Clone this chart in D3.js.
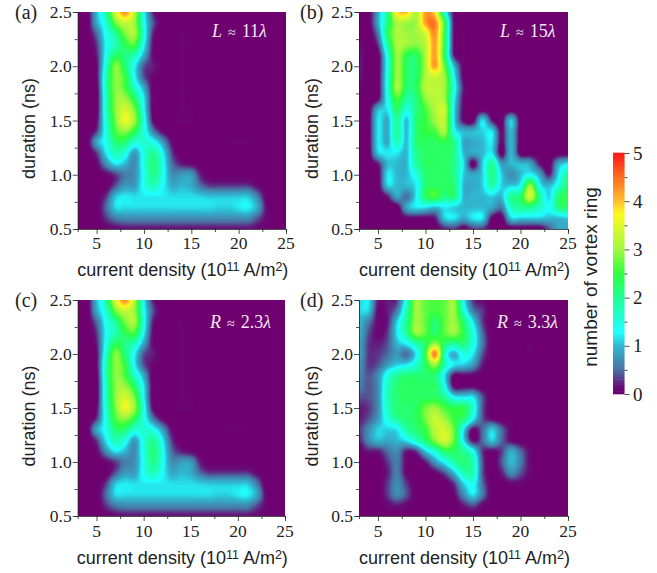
<!DOCTYPE html>
<html><head><meta charset="utf-8">
<script src="https://cdnjs.cloudflare.com/ajax/libs/d3/7.8.5/d3.min.js"></script>
<style>html,body{margin:0;padding:0;background:#fff}svg{display:block}</style>
</head><body><svg id="c" width="657" height="573"></svg>
<script>
// grid axes
const currentDensity = d3.range(3, 26);            // 3..25
const durations = d3.range(25, 4, -1).map(d => d / 10); // rows: 2.5 .. 0.5
const xTicks = [5, 10, 15, 20, 25];
const yTicks = [0.5, 1.0, 1.5, 2.0, 2.5];
const barTicks = [0, 1, 2, 3, 4, 5];

// values: rows top (2.5 ns) to bottom (0.5 ns), columns 3..25
const ringsL11 = [
[0,0,1.0,1.9,3.4,4.3,3.2,1.3,.2,0,0,0,0,0,0,0,0,0,0,0,0,0,0],
[0,0,.9,1.6,2.8,3.3,3.0,1.4,.4,0,0,0,0,0,0,0,0,0,0,0,0,0,0],
[0,0,.5,1.4,2.0,2.8,3.1,1.5,.2,0,0,.05,0,0,0,0,0,0,0,0,0,0,0],
[0,0,.3,1.3,1.8,2.4,2.6,1.3,.1,0,0,.05,0,0,0,0,0,0,0,0,0,0,0],
[0,0,.2,1.4,2.3,2.1,1.8,.9,.1,0,0,.05,0,0,0,0,0,0,0,0,0,0,0],
[0,0,.1,1.6,2.9,2.2,1.3,.4,.2,0,0,.05,0,0,0,0,0,0,0,0,0,0,0],
[0,0,.1,1.8,2.9,2.5,1.3,.4,.1,0,0,.05,0,0,0,0,0,0,0,0,0,0,0],
[0,0,0,1.8,2.9,2.6,1.7,.9,0,0,0,.05,0,0,0,0,0,0,0,0,0,0,0],
[0,0,0,1.7,2.9,3.0,2.3,1.2,0,0,0,.05,0,0,0,0,0,0,0,0,0,0,0],
[0,0,0,1.7,2.9,3.4,2.8,1.3,0,0,0,.05,.05,0,0,0,0,0,0,0,0,0,0],
[0,0,.1,1.6,2.8,3.6,3.0,1.5,.1,0,.05,.05,.05,0,0,0,0,0,0,0,0,0,0],
[0,0,.3,1.5,2.6,2.9,2.4,1.5,.6,.1,0,0,0,0,0,0,0,0,0,0,0,0,0],
[0,0,.9,1.4,2.2,2.2,1.6,1.6,1.4,.8,.1,0,0,0,0,0,.05,.05,.05,0,0,0,0],
[0,0,.3,1.2,1.8,1.5,.8,1.5,2.0,1.25,.3,0,0,0,0,0,0,0,0,0,0,0,0],
[0,0,.1,.7,1.2,1.0,.7,1.5,2.2,1.4,.5,.2,.1,0,0,0,0,0,0,0,0,0,0],
[0,0,0,.1,.3,.6,.7,1.4,2.1,1.4,.7,.8,.8,.2,0,0,0,0,0,0,0,0,0],
[0,0,0,0,.4,.8,.8,1.4,1.8,1.3,.9,1.0,.9,.5,.3,.3,.3,.3,.3,.1,0,0,0],
[0,0,0,.3,1.05,1.2,1.15,1.2,1.2,1.2,1.15,1.15,1.15,1.1,1.05,1.05,1.05,1.05,1.05,.6,0,0,0],
[0,0,0,.5,1.15,1.15,1.15,1.15,1.15,1.15,1.15,1.15,1.15,1.15,1.15,1.1,1.1,1.2,1.25,.9,.1,0,0],
[0,0,0,.3,.6,.7,.7,.7,.7,.7,.7,.7,.7,.7,.7,.7,.7,.7,.7,.4,.1,0,0],
[0,0,0,.05,.1,.15,.15,.15,.15,.15,.15,.15,.15,.15,.15,.15,.15,.15,.15,.1,.05,0,0]
];
const ringsL15 = [
[0,0,.9,2.0,3.8,4.0,3.1,4.2,3.8,1.6,.1,0,0,0,0,0,0,0,0,0,0,0,0],
[0,0,.9,2.1,3.1,3.0,3.0,4.2,4.4,2.5,.1,0,0,0,0,0,0,0,0,0,0,0,0],
[0,0,.6,2.3,3.1,3.0,3.0,3.4,4.3,2.4,.1,.05,0,0,0,0,0,0,0,0,0,0,0],
[.1,0,.3,1.9,3.1,3.0,2.9,3.2,4.2,2.4,.1,.05,0,0,0,0,0,0,0,0,0,0,0],
[.2,0,0,1.5,3.0,2.4,2.3,3.1,4.2,2.3,.2,.05,0,0,0,0,0,0,0,0,0,0,0],
[.2,0,0,1.4,3.0,2.3,2.2,3.1,4.2,2.7,1.0,.05,0,0,0,0,0,0,0,0,0,0,0],
[.2,0,0,1.5,3.0,2.3,2.2,3.1,3.3,3.0,1.3,.05,0,0,0,0,0,0,0,0,0,0,0],
[.1,0,0,1.5,3.1,2.2,2.3,3.2,3.2,3.0,1.5,.2,0,0,0,0,0,0,0,0,0,0,0],
[0,0,.1,1.4,2.6,1.9,2.1,2.9,3.2,3.0,1.3,.1,0,0,0,0,0,0,0,0,0,0,0],
[0,0,1.0,1.2,2.3,1.5,2.1,2.6,3.1,3.3,1.2,.1,0,0,0,0,0,0,0,0,0,0,0],
[0,0,1.2,.9,2.0,1.0,2.2,2.5,3.0,3.2,1.2,.1,0,1.2,.2,0,1.1,0,0,0,0,0,0],
[0,0,1.2,.9,2.0,1.0,2.2,2.5,2.6,3.1,1.4,1.0,1.0,1.1,1.2,.1,1.0,0,0,0,0,0,0],
[0,0,1.2,.9,1.8,1.0,2.2,2.3,2.3,2.4,2.1,.9,.9,1.0,1.2,.1,1.0,0,0,0,0,0,0],
[0,0,1.1,1.2,1.2,1.0,2.0,2.3,2.3,2.3,2.1,1.0,.9,1.0,1.2,0,1.0,0,0,0,0,0,0],
[0,0,.2,1.0,1.0,1.0,1.9,2.3,2.3,2.3,2.1,1.2,0,1.1,2.0,.8,1.0,1.0,.9,.2,0,.9,1.2],
[0,0,0,1.2,1.0,1.0,1.5,2.2,2.3,2.3,2.1,1.1,.9,1.1,2.1,1.1,.7,1.0,1.3,.9,.2,1.2,2.0],
[0,0,0,1.1,1.0,1.0,1.2,2.2,2.3,2.3,2.2,1.0,.9,1.1,1.9,1.1,1.1,1.3,3.0,1.3,1.0,1.5,2.3],
[0,0,0,.2,.9,.5,1.2,2.3,2.6,2.1,2.2,1.0,1.0,1.0,1.1,1.0,2.0,2.2,3.4,2.0,1.1,2.2,2.4],
[0,0,0,0,0,.9,1.2,1.2,1.0,1.2,1.1,1.0,1.0,1.0,.9,.6,1.7,2.0,2.0,1.7,1.3,2.1,2.3],
[0,0,0,0,0,.1,.1,.1,.2,1.1,1.2,.9,1.2,1.2,.1,0,1.1,1.1,1.1,1.1,1.0,1.0,1.1],
[0,0,0,0,0,0,0,0,0,.2,.3,0,.3,.3,0,0,0,0,0,0,.4,.9,.9]
];
const ringsR33 = [
[1.1,1.2,.2,.2,.3,1.5,3.0,2.7,2.6,2.7,3.0,1.3,.3,.1,0,0,0,0,0,0,0,0,0],
[1.1,1.1,.1,.2,.6,1.8,3.0,2.7,2.6,2.7,3.0,1.6,.6,.3,0,0,0,0,0,0,0,0,0],
[1.0,.6,.1,.2,1.1,2.0,3.0,2.7,2.2,2.7,3.0,2.2,1.2,.3,0,0,0,0,0,0,0,0,0],
[1.0,.4,.1,.3,1.2,2.0,3.0,2.7,2.2,2.7,3.0,2.4,1.5,.5,0,0,0,0,0,0,0,0,0],
[.9,.3,.2,.4,1.0,1.3,1.9,2.3,2.9,2.3,2.0,2.2,1.5,.6,0,0,0,0,.05,0,0,0,0],
[.9,.3,.3,.5,.8,.5,1.2,2.5,4.4,1.7,.9,1.5,1.2,.4,0,0,0,0,.05,0,0,0,0],
[.8,.3,.4,.8,1.1,1.2,1.6,2.3,3.0,1.8,1.2,1.1,.8,.2,0,0,0,0,0,0,0,0,0],
[.7,.4,.7,1.5,2.0,2.2,2.2,2.2,2.2,1.2,.1,.1,.1,0,0,0,0,0,0,0,0,0,0],
[.6,.4,.7,1.7,2.2,2.3,2.3,2.3,2.3,1.4,.1,.1,.1,0,0,0,0,0,0,0,0,0,0],
[.4,.4,.7,1.8,2.2,2.3,2.3,2.3,2.3,2.0,1.3,1.2,1.2,.4,0,0,0,0,0,0,0,0,0],
[.2,.3,.7,1.7,2.2,2.2,2.3,2.8,3.0,2.6,2.4,2.4,1.6,.4,0,0,0,0,0,0,0,0,0],
[.2,.4,.8,1.5,2.0,2.2,2.3,2.8,3.3,3.0,2.5,2.2,1.3,.4,.1,0,0,0,0,0,0,0,0],
[.3,.7,1.1,1.1,1.2,1.9,2.2,2.5,3.2,3.4,2.7,1.2,.1,.5,1.1,.5,.1,0,0,0,0,0,0],
[.2,.7,1.0,.9,1.0,1.2,1.7,2.2,2.9,3.4,2.7,1.2,.1,.5,1.1,.5,.1,0,0,0,0,0,0],
[0,.2,.2,.5,.7,.2,.3,1.1,1.6,2.3,2.3,2.0,1.4,.3,.1,.3,.9,.5,.1,0,0,0,0],
[0,0,0,.3,.6,.1,0,.2,.8,1.3,1.9,2.2,1.8,.4,0,.4,1.0,.6,.1,0,0,0,0],
[0,0,0,.2,.6,.1,0,0,.1,.4,1.0,1.8,1.8,.4,0,.2,.7,.4,.1,0,0,0,0],
[0,0,0,.3,.7,.3,0,0,0,0,.3,1.1,1.4,.5,0,0,.1,.1,0,0,0,0,0],
[0,0,0,.3,.7,.4,0,0,0,0,.1,.7,1.2,.6,0,0,0,0,0,0,0,0,0],
[0,0,0,.1,.2,.1,0,0,0,0,0,.2,.4,.1,0,0,0,0,0,0,0,0,0],
[0,0,0,0,0,0,0,0,0,0,0,0,0,0,0,0,0,0,0,0,0,0,0]
];

const colorStops = [0, .15, .5, 1, 1.28, 2, 2.5, 3, 3.75, 4, 4.5, 5];
const colorVals = ["#6e0070","#680c78","#4a70a0","#30b8d0","#20ffff","#20ff98","#30ff40","#a0f840","#fff820","#ffc030","#ff6c20","#ff1818"];
const color = d3.scaleLinear().domain(colorStops).range(colorVals).clamp(true);

const panels = [
 {id:"a", label:"(a)", data:ringsL11, note:["L"," ≈ ","11","λ"], x0:77.7, x1:286, y0:12, y1:229, tickY:249, titleY:276, labelX:15, yTitleX:30, noteX:212, noteY:37},
 {id:"b", label:"(b)", data:ringsL15, note:["L"," ≈ ","15","λ"], x0:359, x1:568, y0:12, y1:229, tickY:249, titleY:276, labelX:300, yTitleX:313, noteX:500, noteY:37},
 {id:"c", label:"(c)", data:ringsL11, note:["R"," ≈ ","2.3","λ"], x0:77.7, x1:285, y0:300, y1:516, tickY:537, titleY:564, labelX:15, yTitleX:30, noteX:210, noteY:328},
 {id:"d", label:"(d)", data:ringsR33, note:["R"," ≈ ","3.3","λ"], x0:359, x1:568, y0:300, y1:516, tickY:537, titleY:564, labelX:300, yTitleX:313, noteX:497, noteY:328}
];

const svg = d3.select("#c");
const SERIF = "'Liberation Serif'", SANS = "'Liberation Sans'";
const K = 5; // display refinement of the value grid

function cubic(p0, p1, p2, p3, t) {
  return p1 + .5 * t * (p2 - p0 + t * (2 * p0 - 5 * p1 + 4 * p2 - p3 + t * (3 * (p1 - p2) + p3 - p0)));
}
function refine(rows) {
  const n = rows.length, m = rows[0].length;
  const at = (j, i) => rows[Math.max(0, Math.min(n - 1, j))][Math.max(0, Math.min(m - 1, i))];
  const W = (m - 1) * K + 1, H = (n - 1) * K + 1, out = new Float64Array(W * H);
  for (let b = 0; b < H; b++) for (let a = 0; a < W; a++) {
    const fi = a / K, fj = b / K, i = Math.floor(fi), j = Math.floor(fj), u = fi - i, v = fj - j;
    const col = [-1, 0, 1, 2].map(dj => cubic(at(j + dj, i - 1), at(j + dj, i), at(j + dj, i + 1), at(j + dj, i + 2), u));
    out[a + b * W] = Math.max(0, cubic(col[0], col[1], col[2], col[3], v));
  }
  return {values: out, W, H};
}

panels.forEach(p => {
  const x = d3.scaleLinear().domain([3, 25]).range([p.x0, p.x1]);
  const y = d3.scaleLinear().domain([0.5, 2.5]).range([p.y1, p.y0]);
  const g = svg.append("g").attr("class", "panel-" + p.id);
  const clipId = "clip-" + p.id;
  svg.append("clipPath").attr("id", clipId).append("rect")
    .attr("x", x(3)).attr("y", y(2.5)).attr("width", x(25) - x(3)).attr("height", y(0.5) - y(2.5));
  const plot = g.append("g").attr("clip-path", `url(#${clipId})`);
  plot.append("rect").attr("x", x(3)).attr("y", y(2.5)).attr("width", x(25) - x(3)).attr("height", y(0.5) - y(2.5)).attr("fill", color(0));

  const f = refine(p.data);
  const thresholds = d3.range(0.04, 5, 0.04);
  const contours = d3.contours().size([f.W, f.H]).thresholds(thresholds)(f.values);
  const proj = d3.geoTransform({point(px, py) {
    this.stream.point(x(3 + (px - .5) / K), y(2.5 - (py - .5) / K * 0.1));
  }});
  const path = d3.geoPath(proj);
  plot.selectAll("path.band").data(contours.filter(c => c.coordinates.length)).join("path")
    .attr("class", "band").attr("d", path).attr("fill", d => color(d.value + .02)).attr("stroke", "none");

  // axes
  const axX = g.append("g").attr("transform", `translate(0,${p.y1})`)
    .call(d3.axisBottom(x).tickValues(d3.range(5, 26, 2.5)).tickSize(3).tickFormat(""));
  axX.selectAll(".tick line").attr("y2", d => d % 5 === 0 ? 5 : 3);
  const axY = g.append("g").attr("transform", `translate(${p.x0},0)`)
    .call(d3.axisLeft(y).tickValues(d3.range(0.5, 2.51, 0.25)).tickSize(3).tickFormat(""));
  axY.selectAll(".tick line").attr("x2", d => d % 0.5 === 0 ? -5 : -3);
  [axX, axY].forEach(a => { a.selectAll("line,path").attr("stroke", "#222").attr("stroke-width", .8); });

  g.selectAll("text.xt").data(xTicks).join("text").attr("class", "xt")
    .attr("x", d => x(d)).attr("y", p.tickY).attr("text-anchor", "middle")
    .attr("font-family", SERIF).attr("font-size", 17.5).attr("fill", "#222").text(d => d);
  g.selectAll("text.yt").data(yTicks).join("text").attr("class", "yt")
    .attr("x", p.x0 - 6).attr("y", d => y(d) + 6).attr("text-anchor", "end")
    .attr("font-family", SERIF).attr("font-size", 17.5).attr("fill", "#222").text(d => d.toFixed(1));

  const xt = g.append("text").attr("x", (p.x0 + p.x1) / 2 + 1).attr("y", p.titleY).attr("text-anchor", "middle")
    .attr("font-family", SANS).attr("font-size", 18).attr("fill", "#222");
  xt.append("tspan").text("current density (10");
  xt.append("tspan").attr("dy", -5).attr("font-size", 12.5).text("11");
  xt.append("tspan").attr("dy", 5).text(" A/m");
  xt.append("tspan").attr("dy", -5).attr("font-size", 12.5).text("2");
  xt.append("tspan").attr("dy", 5).text(")");

  g.append("text").attr("transform", `translate(${p.yTitleX + 5},${(p.y0 + p.y1) / 2 + 8}) rotate(-90)`)
    .attr("text-anchor", "middle").attr("font-family", SANS).attr("font-size", 18).attr("fill", "#222").text("duration (ns)");
  g.append("text").attr("x", p.labelX).attr("y", p.y0 + 7).attr("font-family", SERIF).attr("font-size", 20).attr("fill", "#222").text(p.label);

  const n = g.append("text").attr("x", p.noteX).attr("y", p.noteY).attr("font-family", SERIF).attr("font-size", 18).attr("fill", "#f4e6f4");
  n.append("tspan").attr("font-style", "italic").text(p.note[0]);
  n.append("tspan").attr("font-size", 14).attr("dx", 6).text(p.note[1].trim());
  n.append("tspan").attr("dx", 6).text(p.note[2]);
  n.append("tspan").attr("font-style", "italic").text(p.note[3]);
});

// colour bar
const bar = svg.append("g").attr("class", "colorbar");
const by = d3.scaleLinear().domain([0, 5]).range([394, 153]);
bar.selectAll("rect").data(d3.range(0, 5, 0.05)).join("rect")
  .attr("x", 613).attr("width", 11.5).attr("y", d => by(d + .05) - .3).attr("height", d => by(d) - by(d + .05) + .6)
  .attr("fill", d => color(d + .025));
const barAxis = bar.append("g").attr("transform", "translate(624.5,0)")
  .call(d3.axisRight(by).tickValues(d3.range(0, 5.01, .5)).tickSize(3).tickFormat(""));
barAxis.select(".domain").remove();
barAxis.selectAll(".tick line").attr("x2", d => d % 1 === 0 ? 5 : 3).attr("stroke", "#222").attr("stroke-width", .8);
bar.selectAll("text.bt").data(barTicks).join("text").attr("class", "bt")
  .attr("x", 633).attr("y", d => by(d) + 6.5).attr("font-family", SERIF).attr("font-size", 19).attr("fill", "#222").text(d => d);
bar.append("text").attr("transform", "translate(597,277) rotate(-90)").attr("text-anchor", "middle")
  .attr("font-family", SANS).attr("font-size", 19).attr("fill", "#222").text("number of vortex ring");
</script></body></html>
